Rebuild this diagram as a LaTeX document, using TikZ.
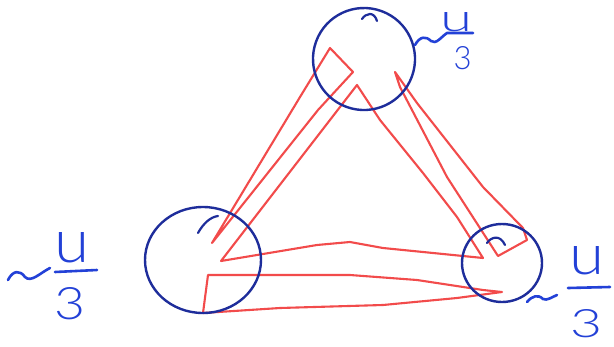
\documentclass[tikz,border=0pt]{standalone}
\usepackage{fontspec}
\setmainfont{Liberation Sans}
\newfontfamily\handfont{Lato Light}
\usepackage{graphicx}
\usetikzlibrary{shapes.geometric}
\definecolor{navy}{RGB}{30,45,155}
\definecolor{pen}{RGB}{35,65,215}
\definecolor{redpen}{RGB}{242,75,75}
\begin{document}
\begin{tikzpicture}[x=1pt,y=-1pt,
  blob/.style={draw=navy, line width=2.4pt, ellipse, inner sep=0pt},
  hook/.style={draw=navy, line width=2.2pt, line cap=round},
  strip/.style={draw=redpen, line width=2.1pt, line join=round, line cap=round},
  ink/.style={draw=pen, line width=2.6pt, line cap=round, line join=round},
  glyph/.style={text=pen, inner sep=0pt, font=\handfont}]
\useasboundingbox[fill=white] (0,0) rectangle (614,346);

% red strips
% top -> left wedge
\coordinate (w1a) at (330,48);
\coordinate (w1b) at (353,72);
\coordinate (w1t) at (212,243);
\draw[strip] (w1a) -- (w1b) -- (318,110) -- (w1t) -- (300,97) -- cycle;
% inner triangle
\coordinate (T) at (357,85);
\coordinate (L) at (221,261);
\coordinate (R) at (483,258);
\draw[strip] (T) -- (L) -- (317,245) -- (350,242) -- (383,248) -- (R)
  -- (457,217) -- (423,173) -- (380,120) -- cycle;
% top -> right wedge
\coordinate (w2t) at (395,72);
\coordinate (w2a) at (527,240);
\coordinate (w2b) at (498,256);
\draw[strip] (w2t) -- (417,103) -- (483,187) -- (523,228) -- (w2a) -- (w2b)
  -- (447,177) -- (400,87) -- cycle;
% left -> right wedge
\coordinate (w3a) at (208,275);
\coordinate (w3b) at (203,313);
\coordinate (w3t) at (502,292);
\draw[strip] (w3a) -- (w3b) -- (280,308) -- (383,305) -- (457,298) -- (w3t)
  -- (483,290) -- (417,280) -- (350,275) -- (280,275) -- cycle;

% blue circles
\node[blob, minimum width=102pt, minimum height=102pt, rotate=-20] (top) at (364,59) {};
\node[blob, minimum width=116pt, minimum height=106pt] (left) at (203,260) {};
\node[blob, minimum width=80pt, minimum height=78pt] (right) at (502,263) {};
\draw[hook] (362,19) .. controls (366,13) and (374,11) .. (377,21);
\draw[hook] (198,233) .. controls (203,224) and (210,217) .. (218,216);
\draw[hook] (487,243) .. controls (491,237) and (500,234) .. (505,245);

% labels
\node[glyph] (tu) at (456.5,22.5) {\resizebox{32pt}{19pt}{u}};
\node[glyph] (t3) at (462.5,58.5) {\resizebox{18pt}{23pt}{3}};
\draw[ink] (415,45) .. controls (420,36) and (426,36) .. (431,41)
  .. controls (436,45) and (441,37) .. (447,33) -- (473,33);

\node[glyph] (lu) at (72.5,248) {\resizebox{35pt}{30pt}{u}};
\node[glyph] (l3) at (70,304) {\resizebox{31pt}{32pt}{3}};
\draw[ink] (8,280) .. controls (13,270) and (20,270) .. (25,277)
  .. controls (31,283) and (40,273) .. (50,268);
\draw[ink] (55,272) -- (97,270);

\node[glyph] (ru) at (587.5,261) {\resizebox{35pt}{28pt}{u}};
\node[glyph] (r3) at (586.5,324) {\resizebox{32pt}{28pt}{3}};
\draw[ink] (527,302) .. controls (532,296) and (538,294) .. (543,299)
  .. controls (547,301) and (552,297) .. (557,295);
\draw[ink] (568,288) -- (610,287);
\end{tikzpicture}
\end{document}
